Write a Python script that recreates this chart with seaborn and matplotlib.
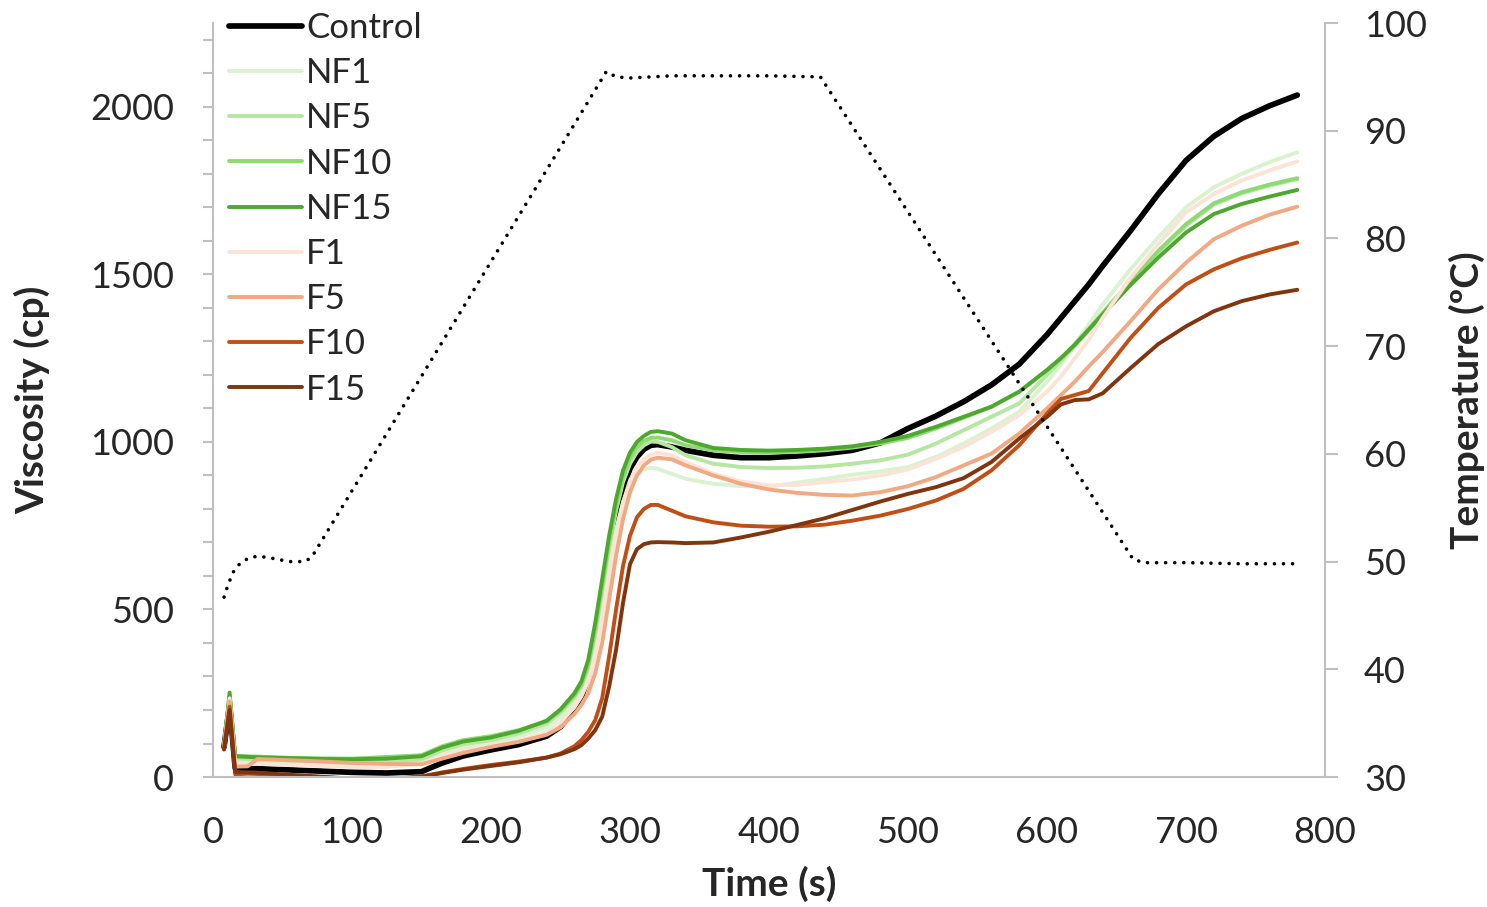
import matplotlib
matplotlib.use("Agg")
import matplotlib.pyplot as plt
from matplotlib.ticker import MultipleLocator
import seaborn as sns

# sampling times (s) shared by every viscosity series
time = [8, 12, 16, 25, 32, 50, 75, 100, 125, 150, 165, 180, 200, 220, 240, 250,
        260, 265, 270, 275, 280, 285, 290, 295, 300, 305, 310, 315, 320, 330,
        340, 360, 380, 400, 420, 440, 460, 480, 500, 520, 540, 560, 580, 600,
        610, 620, 630, 640, 660, 680, 700, 720, 740, 760, 780]

control = [90, 215, 27, 26, 25, 22, 18, 14, 12, 16, 42, 63, 81, 97, 122, 150,
           200, 238, 298, 390, 520, 650, 770, 860, 920, 955, 978, 990, 992, 985,
           975, 960, 953, 953, 958, 965, 975, 997, 1040, 1077, 1120, 1170, 1232, 1320,
           1370, 1420, 1470, 1525, 1630, 1740, 1840, 1912, 1965, 2003, 2035]
nf1 = [88, 235, 45, 44, 43, 40, 37, 35, 37, 45, 72, 90, 102, 120, 148, 178,
       220, 250, 300, 390, 510, 635, 740, 820, 870, 900, 918, 923, 920, 905,
       890, 875, 868, 867, 878, 890, 902, 912, 925, 955, 995, 1040, 1090, 1180,
       1230, 1290, 1350, 1410, 1515, 1610, 1700, 1760, 1800, 1835, 1864]
nf5 = [92, 240, 55, 54, 53, 50, 47, 46, 47, 52, 80, 98, 110, 130, 160, 192,
       238, 270, 325, 425, 555, 685, 795, 880, 935, 970, 990, 1001, 1000, 985,
       960, 935, 925, 922, 923, 927, 935, 945, 962, 995, 1035, 1075, 1115, 1200,
       1242, 1287, 1333, 1380, 1475, 1565, 1645, 1708, 1742, 1765, 1784]
nf10 = [90, 245, 64, 62, 61, 58, 56, 55, 60, 65, 92, 110, 122, 140, 166, 198,
        243, 275, 335, 440, 570, 700, 810, 895, 950, 985, 1003, 1012, 1013, 1005,
        990, 975, 970, 968, 970, 975, 983, 995, 1012, 1040, 1072, 1105, 1150, 1213,
        1250, 1292, 1337, 1385, 1480, 1570, 1650, 1712, 1745, 1768, 1787]
nf15 = [95, 252, 62, 60, 59, 57, 54, 53, 55, 62, 88, 106, 118, 138, 168, 202,
        250, 285, 350, 460, 590, 720, 830, 915, 968, 1000, 1018, 1030, 1032, 1025,
        1005, 982, 976, 974, 976, 980, 987, 1000, 1018, 1045, 1075, 1105, 1150, 1215,
        1250, 1290, 1335, 1380, 1468, 1550, 1625, 1680, 1710, 1732, 1752]
f1 = [90, 235, 42, 40, 39, 37, 33, 30, 30, 40, 65, 80, 92, 108, 133, 162,
      208, 240, 285, 360, 470, 600, 720, 820, 885, 925, 948, 962, 968, 960,
      940, 905, 882, 870, 872, 880, 888, 900, 918, 950, 985, 1030, 1080, 1150,
      1195, 1250, 1305, 1370, 1490, 1590, 1685, 1740, 1780, 1810, 1837]
f5 = [85, 225, 31, 32, 54, 51, 47, 42, 39, 38, 55, 72, 90, 105, 126, 148,
      188, 215, 250, 310, 400, 530, 660, 770, 850, 900, 930, 947, 953, 948,
      930, 900, 875, 858, 848, 842, 840, 850, 868, 895, 930, 965, 1025, 1100,
      1140, 1180, 1225, 1268, 1360, 1455, 1535, 1605, 1645, 1678, 1702]
f10 = [85, 210, 8, 10, 9, 5, 0, -5, -6, 2, 14, 24, 36, 46, 58, 70,
       92, 110, 135, 170, 235, 360, 500, 630, 720, 775, 800, 812, 812, 795,
       778, 760, 750, 747, 748, 753, 765, 780, 800, 825, 860, 915, 990, 1085,
       1128, 1140, 1152, 1205, 1310, 1400, 1470, 1515, 1548, 1573, 1595]
f15 = [82, 200, 15, 14, 13, 8, 2, -5, -6, 0, 12, 22, 33, 44, 58, 68,
       83, 95, 115, 140, 180, 270, 380, 520, 635, 680, 695, 700, 701, 700,
       698, 700, 715, 732, 752, 772, 797, 822, 845, 865, 892, 940, 1010, 1075,
       1112, 1125, 1127, 1145, 1220, 1292, 1345, 1390, 1420, 1440, 1454]

# temperature profile (right axis)
temp_time = [8, 10, 14, 17, 21, 27, 33, 43, 49, 55, 66, 71, 283, 290, 300, 330,
             360, 400, 437, 662, 670, 700, 740, 780]
temp = [46.7, 47.5, 48.9, 49.5, 50.0, 50.4, 50.5, 50.3, 50.15, 50.0, 50.0, 50.4,
        95.5, 95.0, 94.9, 95.1, 95.1, 95.1, 95.0, 50.2, 49.9, 49.9, 49.8, 49.8]

names = ["Control", "NF1", "NF5", "NF10", "NF15", "F1", "F5", "F10", "F15"]
series = [control, nf1, nf5, nf10, nf15, f1, f5, f10, f15]
colors = ["#000000", "#DAF2D0", "#B5E6A2", "#8ED973", "#4EA72E",
          "#FBE3D6", "#F1A983", "#C04F15", "#80350E"]

sns.set_style("white")
plt.rcParams["font.family"] = ["Lato", "DejaVu Sans"]
grey = "#bfbfbf"
fs = 26     # tick labels
lfs = 25    # legend
bfs = 28    # axis titles

fig, ax = plt.subplots(figsize=(14.87, 9.07), dpi=100)
fig.subplots_adjust(left=0.1432, right=0.8911, bottom=0.1433, top=0.9746)

for name, vals, col in zip(names, series, colors):
    lw = 4.1 if name == "Control" else 2.8
    sns.lineplot(x=time, y=vals, ax=ax, color=col, linewidth=lw, label=name,
                 legend=False, sort=False, estimator=None, errorbar=None)

ax.set_xlim(0, 800)
ax.set_ylim(0, 2250)
ax.set_xticks(range(0, 801, 100))
ax.set_yticks(range(0, 2001, 500))
ax.yaxis.set_minor_locator(MultipleLocator(100))
ax.tick_params(axis="y", which="both", length=7, width=1.5, color=grey,
               direction="out", pad=21, labelsize=fs)
ax.tick_params(axis="x", length=7, width=1.5, color=grey, direction="out",
               pad=21, labelsize=fs)
for s in ["top", "right"]:
    ax.spines[s].set_visible(False)
for s in ["left", "bottom"]:
    ax.spines[s].set_color(grey)
    ax.spines[s].set_linewidth(1.5)

ax.set_xlabel("Time (s)", fontsize=bfs, fontweight="bold")
ax.set_ylabel("Viscosity (cp)", fontsize=bfs, fontweight="bold")
ax.yaxis.set_label_coords(-0.146, 0.5)
ax.xaxis.set_label_coords(0.5, -0.118)

ax2 = ax.twinx()
sns.lineplot(x=temp_time, y=temp, ax=ax2, color="black", linewidth=2.6,
             linestyle=(0, (0.01, 2.5)), dash_capstyle="round", legend=False,
             sort=False, estimator=None, errorbar=None)
ax2.set_ylim(30, 100)
ax2.set_yticks(range(30, 101, 10))
ax2.tick_params(axis="y", length=9, width=1.5, color=grey, direction="out",
                pad=19, labelsize=fs)
for s in ["top", "left", "bottom"]:
    ax2.spines[s].set_visible(False)
ax2.spines["right"].set_color(grey)
ax2.spines["right"].set_linewidth(1.5)
ax2.set_ylabel("Temperature (ºC)", fontsize=bfs, fontweight="bold")
ax2.yaxis.set_label_coords(1.111, 0.5)

ax2.legend(handles=ax.get_lines()[:9], labels=names, loc="upper left",
           bbox_to_anchor=(229 / 1487, 1 - 12 / 907), bbox_transform=fig.transFigure,
           frameon=False, fontsize=lfs, handlelength=2.1, handletextpad=0.12,
           labelspacing=0.38, borderpad=0, borderaxespad=0)

fig.savefig("out.png", dpi=100)
